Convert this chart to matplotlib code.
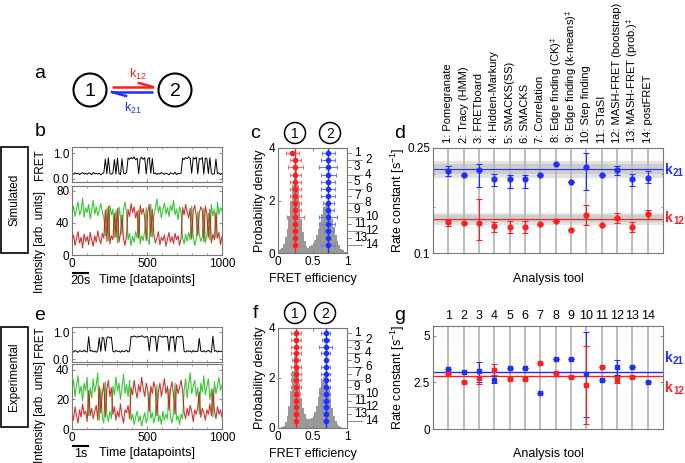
import numpy as np
import matplotlib
matplotlib.use('Agg')
import matplotlib.pyplot as plt
import matplotlib.transforms as mtrans
from matplotlib.patches import Circle, Rectangle
from matplotlib.ticker import FixedLocator, NullFormatter, MultipleLocator

plt.rcParams['font.family'] = ['Liberation Sans', 'DejaVu Sans']
plt.rcParams['font.size'] = 8.5
plt.rcParams['mathtext.default'] = 'regular'

# ---- data ----
tools = ['1: Pomegranate', '2: Tracy (HMM)', '3: FRETboard', '4: Hidden-Markury',
         '5: SMACKS(SS)', '6: SMACKS', '7: Correlation', r'8: Edge finding (CK)$^{\ddagger}$',
         r'9: Edge finding (k-means)$^{\ddagger}$', '10: Step finding', '11: STaSI',
         '12: MASH-FRET (bootstrap)', r'13: MASH-FRET (prob.)$^{\ddagger}$', '14: postFRET']

# simulated trace (every 10th datapoint)
sim_fret = [0.22, 0.18, 0.24, 0.20, 0.23, 0.17, 0.21, 0.25, 0.19, 0.22,
            0.18, 0.24, 0.21, 0.17, 0.25, 0.20, 0.23, 0.19, 0.22, 0.16,
            0.21, 0.24, 0.78, 0.20, 0.83, 0.22, 0.18, 0.23, 0.76, 0.19,
            0.81, 0.21, 0.17, 0.79, 0.23, 0.20, 0.25, 0.82, 0.77, 0.84,
            0.79, 0.86, 0.75, 0.81, 0.21, 0.80, 0.85, 0.77, 0.83, 0.19,
            0.79, 0.84, 0.22, 0.80, 0.20, 0.24, 0.17, 0.22, 0.19, 0.25,
            0.21, 0.18, 0.23, 0.20, 0.16, 0.24, 0.21, 0.19, 0.26, 0.17,
            0.22, 0.20, 0.23, 0.81, 0.76, 0.84, 0.79, 0.86, 0.80, 0.22,
            0.83, 0.78, 0.85, 0.20, 0.80, 0.77, 0.84, 0.19, 0.82, 0.79,
            0.21, 0.83, 0.23, 0.18, 0.21, 0.78, 0.20, 0.24, 0.17, 0.22]
sim_green = [52, 61, 48, 58, 66, 50, 55, 71, 47, 59, 53, 63, 45, 57, 68, 51, 60, 49, 56, 64,
             54, 47, 24, 58, 18, 62, 50, 57, 22, 55, 15, 60, 48, 25, 57, 66, 52, 19, 27, 12,
             23, 16, 29, 21, 56, 14, 24, 18, 30, 59, 20, 13, 63, 22, 49, 58, 70, 53, 61, 46,
             57, 65, 51, 59, 48, 62, 55, 68, 50, 57, 44, 60, 53, 21, 14, 26, 17, 28, 19, 61,
             23, 12, 20, 54, 26, 17, 22, 58, 15, 24, 52, 19, 63, 49, 57, 21, 66, 51, 59, 55]
sim_red = [18, 25, 12, 21, 29, 15, 22, 9, 26, 17, 23, 13, 28, 19, 11, 24, 16, 30, 20, 14,
           27, 21, 56, 17, 61, 14, 24, 19, 52, 22, 58, 16, 27, 50, 20, 12, 25, 57, 48, 64,
           53, 60, 46, 55, 21, 62, 51, 58, 47, 18, 54, 63, 23, 57, 26, 15, 21, 29, 13, 22,
           18, 25, 11, 20, 28, 16, 23, 14, 27, 19, 24, 12, 21, 59, 50, 63, 54, 46, 58, 20,
           55, 62, 49, 24, 52, 60, 56, 17, 61, 51, 22, 57, 15, 26, 19, 53, 21, 28, 13, 23]

# experimental trace (every 10th datapoint)
exp_fret = [0.31, 0.27, 0.33, 0.29, 0.26, 0.32, 0.30, 0.28, 0.34, 0.29, 0.27, 0.84,
            0.30, 0.33, 0.28, 0.31, 0.26, 0.32, 0.80, 0.29, 0.82, 0.78, 0.31,
            0.80, 0.84, 0.79, 0.82,
            0.30, 0.27, 0.33, 0.29, 0.31, 0.26, 0.32, 0.28, 0.30, 0.34, 0.27, 0.31,
            0.85, 0.83, 0.87, 0.84, 0.82, 0.86, 0.83, 0.88, 0.84, 0.81, 0.85, 0.83,
            0.32, 0.84, 0.86, 0.82, 0.85, 0.29, 0.83, 0.87, 0.84, 0.82, 0.86, 0.83, 0.85,
            0.31, 0.84, 0.81, 0.86, 0.28, 0.83, 0.85, 0.82, 0.86, 0.84,
            0.30, 0.27, 0.32, 0.29, 0.31, 0.26, 0.33, 0.28, 0.30, 0.29, 0.78,
            0.31, 0.28, 0.32, 0.27, 0.30, 0.33, 0.29, 0.26, 0.86,
            0.30, 0.32, 0.27, 0.31, 0.28, 0.30]
exp_green = [27, 33, 22, 30, 36, 24, 29, 19, 31, 26, 35, 9, 28, 21, 34, 25, 30, 38, 6, 27,
             8, 4, 32, 10, 5, 12, 7, 29, 23, 35, 26, 31, 20, 28, 37, 24, 30, 22, 33,
             6, 10, 3, 8, 12, 5, 9, 2, 7, 11, 4, 8, 25, 7, 11, 4, 9, 30,
             5, 9, 3, 12, 6, 10, 7, 27, 8, 4, 11, 31, 6, 9, 3, 10, 7,
             26, 34, 21, 30, 38, 24, 29, 33, 22, 28, 10, 31, 25, 36, 23, 29, 34, 20, 27, 8,
             32, 24, 29, 35, 26, 30]
exp_red = [11, 6, 15, 9, 4, 13, 8, 17, 10, 12, 5, 26, 9, 14, 7, 12, 16, 6, 29, 11,
           24, 31, 8, 27, 33, 22, 28, 10, 15, 6, 12, 8, 17, 9, 4, 13, 11, 16, 7,
           28, 23, 33, 26, 21, 30, 25, 35, 27, 22, 31, 26, 12, 29, 24, 32, 27, 9,
           25, 31, 22, 28, 34, 24, 29, 13, 27, 32, 23, 10, 30, 24, 28, 33, 26,
           11, 7, 14, 9, 16, 12, 5, 13, 10, 15, 25, 8, 14, 11, 6, 13, 10, 17, 9, 27,
           12, 7, 15, 10, 13, 8]

# FRET histograms (bin width 0.025 from 0 to 1)
c_hist = [0.10, 0.15, 0.20, 0.35, 0.60, 0.90, 1.40, 2.00, 2.60, 3.10, 3.15, 2.60, 2.00, 1.30,
          0.80, 0.45, 0.25, 0.20, 0.25, 0.30, 0.40, 0.50, 0.70, 0.90, 1.20, 1.50, 1.75, 1.90,
          1.95, 1.85, 1.60, 1.30, 1.00, 0.70, 0.45, 0.30, 0.15, 0.10, 0.05, 0.02]
f_hist = [0.00, 0.02, 0.05, 0.10, 0.25, 0.50, 0.90, 1.50, 2.30, 2.90, 3.05, 2.50, 1.80, 1.20,
          0.80, 0.55, 0.40, 0.35, 0.35, 0.40, 0.50, 0.65, 0.90, 1.25, 1.60, 1.85, 2.05, 2.05,
          1.90, 1.60, 1.20, 0.80, 0.50, 0.30, 0.15, 0.08, 0.04, 0.02, 0.00, 0.00]

# FRET efficiencies per tool
c_E1 = [0.21, 0.25, 0.25, 0.25, 0.25, 0.25, 0.25, 0.25, 0.25, 0.25, 0.25, 0.25, 0.25, 0.25]
c_E1_err = [0.09, 0.08, 0.11, 0.08, 0.08, 0.08, 0.08, 0.08, 0.08, 0.12, 0.08, 0.07, 0.0, 0.07]
c_E2 = [0.73, 0.73, 0.73, 0.73, 0.73, 0.73, 0.73, 0.73, 0.73, 0.73, 0.73, 0.73, 0.73, 0.73]
c_E2_err = [0.09, 0.10, 0.13, 0.11, 0.10, 0.10, 0.10, 0.08, 0.08, 0.13, 0.10, 0.06, 0.0, 0.10]
f_E1 = [0.26, 0.26, 0.26, 0.26, 0.26, 0.26, 0.26, 0.26, 0.26, 0.26, 0.26, 0.26, 0.26, 0.26]
f_E1_err = [0.07, 0.07, 0.07, 0.07, 0.06, 0.07, 0.07, 0.07, 0.07, 0.06, 0.06, 0.0, 0.06, 0.06]
f_E2 = [0.69, 0.69, 0.69, 0.69, 0.69, 0.69, 0.69, 0.69, 0.69, 0.69, 0.69, 0.69, 0.69, 0.69]
f_E2_err = [0.07, 0.05, 0.09, 0.07, 0.0, 0.07, 0.07, 0.07, 0.07, 0.06, 0.05, 0.05, 0.04, 0.04]
c_true = [0.25, 0.73]
f_mean = [0.26, 0.69]

nan = np.nan
# simulated rate constants
d_k21 = [0.205, 0.198, 0.2065, 0.191, 0.190, 0.190, 0.198, 0.218, 0.186, 0.212, 0.198, 0.2065, 0.190, 0.193]
d_k21_lo = [0.196, nan, 0.178, 0.180, 0.176, 0.176, nan, nan, nan, 0.173, nan, 0.198, 0.180, 0.185]
d_k21_hi = [0.214, nan, 0.218, 0.200, 0.198, 0.198, nan, nan, nan, 0.240, nan, 0.214, 0.199, 0.204]
d_k12 = [0.1314, 0.130, 0.1296, 0.1266, 0.1257, 0.1255, 0.1288, 0.1322, 0.1222, 0.139, 0.1273, 0.136, 0.126, 0.1406]
d_k12_lo = [0.127, nan, 0.112, 0.120, 0.1194, 0.1194, nan, nan, nan, 0.1277, nan, 0.1302, 0.1204, 0.1345]
d_k12_hi = [0.1334, nan, 0.160, 0.131, 0.1326, 0.1326, nan, nan, nan, 0.152, nan, 0.1413, 0.131, 0.145]
d_true = [0.208, 0.135]           # k21, k12
d_band_in = [(0.199, 0.217), (0.131, 0.139)]
d_band_out = [(0.193, 0.224), (0.128, 0.142)]

# experimental rate constants
g_k21 = [3.21, 3.04, 3.14, 2.64, 3.26, 3.25, 1.93, 3.75, 3.75, 2.95, 2.64, 3.32, 3.32, 2.53]
g_k21_lo = [nan, nan, 2.55, 2.46, nan, nan, nan, nan, nan, 0.62, nan, 2.91, nan, nan]
g_k21_hi = [nan, nan, 3.62, 2.82, nan, nan, nan, nan, nan, 5.23, nan, 3.71, nan, nan]
g_k12 = [2.95, 2.53, 2.73, 3.18, 2.70, 2.70, 3.54, 3.03, 2.77, 2.36, 3.32, 2.64, 2.77, nan]
g_k12_lo = [nan, nan, 2.41, 2.89, nan, nan, nan, nan, nan, 0.28, nan, 2.45, nan, nan]
g_k12_hi = [nan, nan, 2.82, 3.50, nan, nan, nan, nan, nan, 4.43, nan, 2.80, nan, nan]
g_mean = [3.05, 2.84]

RED = '#ff1f1f'
BLUE = '#1f2fff'
GREEN = '#22c322'
TRACE_RED = '#cc1111'
SPINE = '#777777'

W, H = 685, 463
fig = plt.figure(figsize=(6.85, 4.63), dpi=100)


def box(x0, x1, y0, y1):
    return [x0 / W, 1 - y1 / H, (x1 - x0) / W, (y1 - y0) / H]


def style(ax):
    for s in ax.spines.values():
        s.set_color(SPINE)
        s.set_linewidth(0.8)
    ax.tick_params(direction='in', length=2.5, width=0.6, top=True, right=True,
                   color=SPINE, pad=2)
    ax.tick_params(which='minor', direction='in', length=1.5, width=0.5, top=True,
                   right=True, color=SPINE)


# overlay for drawn annotations
ov = fig.add_axes([0, 0, 1, 1])
ov.set_xlim(0, W)
ov.set_ylim(H, 0)
ov.axis('off')

# panel a scheme
for cx, lab in [(90, '1'), (175, '2')]:
    ov.add_patch(Circle((cx, 90), 16.5, fill=False, lw=1.5, color='black'))
    ov.text(cx, 91, lab, fontsize=14, ha='center', va='center')
ov.plot([112, 153], [87, 87], color=RED, lw=1.8, solid_capstyle='butt')
ov.plot([153, 139], [87, 83], color=RED, lw=1.8)
ov.plot([112, 153], [92, 92], color=BLUE, lw=1.8, solid_capstyle='butt')
ov.plot([112, 126], [92, 96], color=BLUE, lw=1.8)
ov.text(138, 74, r'k$_{12}$', color=RED, fontsize=9, ha='center', va='center')
ov.text(133, 108, r'k$_{21}$', color=BLUE, fontsize=9, ha='center', va='center')

for lab, x, y in [('a', 40, 73), ('b', 40, 131), ('c', 255, 133), ('d', 400, 133),
                  ('e', 40, 315), ('f', 255, 313), ('g', 400, 315)]:
    ov.text(x, y, lab, fontsize=14, ha='center', va='center')

# row boxes
for lab, y0, y1 in [('Simulated', 147, 253), ('Experimental', 327, 427)]:
    ov.add_patch(Rectangle((1, y0), 27, y1 - y0, fill=False, lw=1.2, color='black'))
    ov.text(14.5, (y0 + y1) / 2, lab, rotation=90, ha='center', va='center', fontsize=8.5)

# circles above c and f
for cy, xs in [(133, (295, 330)), (313, (295, 325))]:
    for cx, lab in zip(xs, ['1', '2']):
        ov.add_patch(Circle((cx, cy), 10.5, fill=False, lw=1.1, color='black'))
        ov.text(cx, cy + 0.5, lab, fontsize=10, ha='center', va='center')


def trace_panel(top_pos, bot_pos, fret, green, red, ylim_top, ylim_bot, yt_bot,
                scale_lab, fret_y, int_y, bar_y):
    t = np.linspace(0, 1000, len(fret))
    ax1 = fig.add_axes(top_pos)
    ax1.plot(t, fret, color='black', lw=0.7)
    ax1.set_xlim(0, 1000)
    ax1.set_ylim(*ylim_top)
    ax1.set_yticks([0, 1])
    ax1.set_yticklabels(['0.0', '1.0'])
    ax1.set_xticks([0, 500, 1000])
    ax1.xaxis.set_minor_locator(MultipleLocator(100))
    ax1.set_xticklabels([])
    style(ax1)
    ax2 = fig.add_axes(bot_pos)
    ax2.plot(t, green, color=GREEN, lw=0.8, alpha=0.9)
    ax2.plot(t, red, color=TRACE_RED, lw=0.8, alpha=0.85)
    ax2.set_xlim(0, 1000)
    ax2.set_ylim(*ylim_bot)
    ax2.set_yticks(yt_bot)
    ax2.set_xticks([0, 500, 1000])
    ax2.xaxis.set_minor_locator(MultipleLocator(100))
    style(ax2)
    ax2.set_xlabel('Time [datapoints]', fontsize=9, labelpad=3)
    ax2.xaxis.set_label_coords(0.5, -0.28)
    ov.text(40, fret_y, 'FRET', rotation=90, ha='center', va='center', fontsize=8.5)
    ov.text(40, int_y, 'Intensity [arb. units]', rotation=90, ha='center', va='center',
            fontsize=8.5)
    ov.plot([73, 88], [bar_y, bar_y], color='black', lw=1.5)
    ov.text(80.5, bar_y + 2, scale_lab, ha='center', va='top', fontsize=9)


trace_panel(box(72, 222, 147, 182), box(72, 222, 186, 255), sim_fret, sim_green, sim_red,
            (-0.12, 1.25), (0, 86), [0, 40, 80], '20s', 165, 242, 273)
trace_panel(box(72, 222, 327, 362), box(72, 222, 364, 429), exp_fret, exp_green, exp_red,
            (-0.1, 1.2), (0, 44), [0, 20, 40], '1s', 342, 412, 446)


def hist_panel(pos, hist, E1, E1_err, E2, E2_err, lines):
    ax = fig.add_axes(pos)
    edges = np.arange(len(hist)) * 0.025
    ax.bar(edges, hist, width=0.025, align='edge', color='#999999', lw=0)
    rows = 3.8 - 0.27 * np.arange(len(E1))
    ax.axvline(lines[0], color=RED, lw=1)
    ax.axvline(lines[1], color=BLUE, lw=1)
    ax.errorbar(E1, rows, xerr=E1_err, fmt='o', ms=3, color=RED, ecolor='#ff6b6b',
                elinewidth=0.8, capsize=1.5, capthick=0.8)
    ax.errorbar(E2, rows, xerr=E2_err, fmt='o', ms=3, color=BLUE, ecolor='#6b78ff',
                elinewidth=0.8, capsize=1.5, capthick=0.8)
    ax.set_xlim(0, 1)
    ax.set_ylim(0, 4)
    ax.set_xticks([0, 0.5, 1])
    ax.set_xticklabels(['0', '0.5', '1'])
    ax.set_yticks([0, 2, 4])
    style(ax)
    ax.tick_params(right=False)
    ax.set_xlabel('FRET efficiency', fontsize=9, labelpad=4)
    ax.set_ylabel('Probability density', fontsize=9, labelpad=2)
    tr = mtrans.blended_transform_factory(ax.transAxes, ax.transData)
    for i, y in enumerate(rows):
        if i % 2 == 0:
            ax.plot([1, 1.06], [y, y], color=SPINE, lw=0.6, transform=tr, clip_on=False)
            ax.text(1.1, y, str(i + 1), transform=tr, ha='left', va='center', fontsize=8.5)
        else:
            ax.plot([1, 1.22], [y, y], color=SPINE, lw=0.6, transform=tr, clip_on=False)
            ax.text(1.26, y, str(i + 1), transform=tr, ha='left', va='center', fontsize=8.5)


hist_panel(box(278, 347, 148, 253), c_hist, c_E1, c_E1_err, c_E2, c_E2_err, c_true)
hist_panel(box(278, 347, 328, 428), f_hist, f_E1, f_E1_err, f_E2, f_E2_err, f_mean)


def yerr_of(vals, lo, hi):
    v = np.array(vals)
    l = np.nan_to_num(v - np.array(lo))
    h = np.nan_to_num(np.array(hi) - v)
    return [l, h]


def rate_panel(pos, k21, k21_lo, k21_hi, k12, k12_lo, k12_hi, marker, lab_top):
    ax = fig.add_axes(pos)
    x = np.arange(1, len(k21) + 1)
    for xi in x:
        ax.axvline(xi, color='#b8b8b8', lw=1.3, zorder=0.8)
    ax.errorbar(x, k21, yerr=yerr_of(k21, k21_lo, k21_hi), fmt=marker, ms=3.5, color=BLUE,
                ecolor=BLUE, elinewidth=0.8, capsize=2, capthick=0.8, zorder=3)
    ax.errorbar(x, k12, yerr=yerr_of(k12, k12_lo, k12_hi), fmt=marker, ms=3.5, color=RED,
                ecolor=RED, elinewidth=0.8, capsize=2, capthick=0.8, zorder=3)
    ax.set_xlim(0, 15)
    style(ax)
    ax.set_ylabel(r'Rate constant [s$^{-1}$]', fontsize=9)
    ax.yaxis.set_label_coords(-0.115, 0.5)
    ax.set_xlabel('Analysis tool', fontsize=9)
    ax.xaxis.set_label_coords(0.5, lab_top)
    return ax, x


ax_d, xd = rate_panel(box(433, 663, 148, 253), d_k21, d_k21_lo, d_k21_hi,
                      d_k12, d_k12_lo, d_k12_hi, 'o', -0.19)
for (lo_o, hi_o), (lo_i, hi_i) in zip(d_band_out, d_band_in):
    ax_d.axhspan(lo_o, hi_o, color='#e2e2e2', lw=0, zorder=0.5)
    ax_d.axhspan(lo_i, hi_i, color='#cdcdcd', lw=0, zorder=0.6)
ax_d.axhline(d_true[0], color=BLUE, lw=0.8, zorder=2)
ax_d.axhline(d_true[1], color=RED, lw=0.8, zorder=2)
ax_d.set_yscale('log')
ax_d.set_ylim(0.1, 0.25)
ax_d.yaxis.set_major_locator(FixedLocator([0.1, 0.25]))
ax_d.yaxis.set_minor_locator(FixedLocator([0.15, 0.2]))
ax_d.yaxis.set_minor_formatter(NullFormatter())
ax_d.set_yticklabels(['0.1', '0.25'])
ax_d.set_xticks([])
tr = mtrans.blended_transform_factory(ax_d.transData, ax_d.transAxes)
for xi, name in zip(xd, tools):
    ax_d.text(xi, 1.05, name, rotation=90, ha='center', va='bottom', transform=tr, fontsize=8)

ax_g, xg = rate_panel(box(433, 663, 326, 429), g_k21, g_k21_lo, g_k21_hi,
                      g_k12, g_k12_lo, g_k12_hi, 's', -0.18)
ax_g.axhline(g_mean[0], color=BLUE, lw=1, zorder=2)
ax_g.axhline(g_mean[1], color=RED, lw=1, zorder=2)
ax_g.set_ylim(0, 5.53)
ax_g.set_yticks([0, 2.5, 5])
ax_g.set_yticklabels(['0', '2.5', '5'])
ax_g.set_xticks(xg)
ax_g.set_xticklabels([str(i) for i in xg], fontsize=9)
ax_g.tick_params(axis='x', bottom=False, top=False, labelbottom=False, labeltop=True, pad=3)

for y, sub, col in [(170, '21', BLUE), (218, '12', RED), (358, '21', BLUE), (388, '12', RED)]:
    ov.text(665, y, 'k', color=col, fontsize=10, fontweight='bold', ha='left', va='center')
    ov.text(673, y + 3, sub, color=col, fontsize=7, fontweight='bold', ha='left', va='center')

fig.savefig('out.png', dpi=100)
